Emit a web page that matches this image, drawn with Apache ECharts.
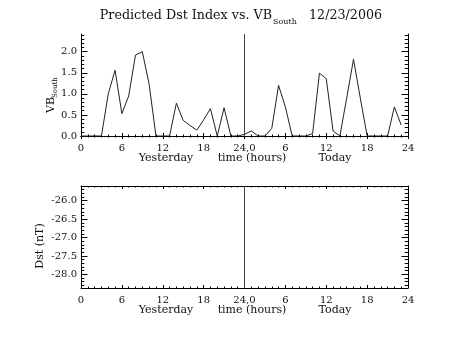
<!DOCTYPE html>
<html>
<head>
<meta charset="utf-8">
<script src="https://cdn.jsdelivr.net/npm/echarts@6/dist/echarts.min.js"></script>
<style>
html,body{margin:0;padding:0;background:#fff;}
#chart{width:453px;height:340px;}
</style>
</head>
<body>
<div id="chart"></div>
<script>
// ---- data ----
const hours = [0,1,2,3,4,5,6,7,8,9,10,11,12,13,14,15,16,17,18,19,20,21,22,23,
               24,25,26,27,28,29,30,31,32,33,34,35,36,37,38,39,40,41,42,43,44,45,46,47];
const vbSouth = [0,0,0,0,1.0,1.56,0.53,0.95,1.92,2.0,1.23,0,0,0,0.78,0.37,0.25,0.14,0.38,0.65,0,0.67,0,0,
                 0.04,0.12,0,0,0.18,1.2,0.69,0,0,0,0.06,1.49,1.36,0.12,0,0.9,1.82,0.9,0,0,0,0,0.69,0.26];
const dstValues = []; // no Dst prediction plotted
const xTickValues = [0,6,12,18,24,30,36,42,48];
const xTickLabels = ['0','6','12','18','24,0','6','12','18','24'];
const vbTickValues = [0,0.5,1,1.5,2];
const vbTickLabels = ['0.0','0.5','1.0','1.5','2.0'];
const dstTickValues = [-28,-27.5,-27,-26.5,-26];
const dstTickLabels = ['-28.0','-27.5','-27.0','-26.5','-26.0'];
const vbRange = [0, 2.42];
const dstRange = [-28.37, -25.6];
const dayBoundary = 24;

function minorTicks(range, step) {
  const out = [];
  const start = Math.ceil(range[0] / step - 1e-6);
  const end = Math.floor(range[1] / step + 1e-6);
  for (let i = start; i <= end; i++) out.push(+(i * step).toFixed(4));
  return out;
}

const FONT = 'DejaVu Serif';
const INK = '#000';
const TXT = '#111';

function xAxes(gi) {
  const base = {
    type: 'value', gridIndex: gi, min: 0, max: 48, interval: 6,
    axisLine: {show: true, lineStyle: {color: INK, width: 1}},
    splitLine: {show: false},
    axisTick: {show: true, inside: true, length: 3, lineStyle: {color: INK}},
    minorTick: {show: true, splitNumber: 6, length: 1.5, lineStyle: {color: INK}},
    minorSplitLine: {show: false}
  };
  return [
    Object.assign({}, base, {
      position: 'bottom',
      axisLabel: {show: true, margin: 7, fontFamily: FONT, fontSize: 10, color: TXT,
        formatter: v => { const i = xTickValues.indexOf(v); return i >= 0 ? xTickLabels[i] : ''; }}
    }),
    Object.assign({}, base, {position: 'top', axisLabel: {show: false}})
  ];
}

function yAxes(gi, range, majors, labels) {
  const minors = minorTicks(range, 0.1);
  const mk = (pos, major, showLabel, showLine) => ({
    type: 'value', gridIndex: gi, position: pos, min: range[0], max: range[1],
    axisLine: {show: showLine, lineStyle: {color: INK, width: 1}},
    splitLine: {show: false},
    axisTick: {show: true, inside: true, length: major ? 6.5 : 3.3,
      customValues: major ? majors : minors, lineStyle: {color: INK}},
    axisLabel: showLabel ? {show: true, margin: 4, fontFamily: FONT, fontSize: 10, color: TXT,
      customValues: majors,
      formatter: v => { const i = majors.findIndex(m => Math.abs(m - v) < 1e-6); return i >= 0 ? labels[i] : ''; }}
      : {show: false}
  });
  return [mk('left', true, true, true), mk('left', false, false, false),
          mk('right', true, false, true), mk('right', false, false, false)];
}

const boundaryLine = {
  silent: true, symbol: ['none', 'none'], label: {show: false},
  lineStyle: {color: '#444', width: 1, type: 'solid'},
  data: [{xAxis: dayBoundary}]
};

const option = {
  animation: false,
  backgroundColor: '#fff',
  grid: [
    {left: 81, right: 45, top: 34, height: 102},
    {left: 81, right: 45, top: 186, height: 102}
  ],
  xAxis: [].concat(xAxes(0), xAxes(1)),
  yAxis: [].concat(yAxes(0, vbRange, vbTickValues, vbTickLabels),
                   yAxes(1, dstRange, dstTickValues, dstTickLabels)),
  series: [
    {
      type: 'line', xAxisIndex: 0, yAxisIndex: 0,
      data: hours.map((h, i) => [h, vbSouth[i]]),
      showSymbol: false, symbol: 'none',
      lineStyle: {color: '#222', width: 1},
      markLine: boundaryLine
    },
    {
      type: 'line', xAxisIndex: 2, yAxisIndex: 4,
      data: dstValues,
      showSymbol: false, symbol: 'none',
      lineStyle: {color: '#222', width: 1},
      markLine: boundaryLine
    }
  ],
  graphic: [
    // title
    {type: 'text', x: 272, y: 22, style: {text: 'Predicted Dst Index vs. VB', font: '12.7px "' + FONT + '"', fill: TXT, textAlign: 'right', textVerticalAlign: 'bottom'}},
    {type: 'text', x: 273, y: 26, style: {text: 'South', font: '8px "' + FONT + '"', fill: TXT, textAlign: 'left', textVerticalAlign: 'bottom'}},
    {type: 'text', x: 309, y: 22, style: {text: '12/23/2006', font: '12.7px "' + FONT + '"', fill: TXT, textAlign: 'left', textVerticalAlign: 'bottom'}},
    // y axis names
    {type: 'group', x: 51, y: 113, rotation: Math.PI / 2, children: [
      {type: 'text', x: 0, y: 0, style: {text: 'VB', font: '11px "' + FONT + '"', fill: TXT, textAlign: 'left', textVerticalAlign: 'middle'}},
      {type: 'text', x: 15, y: 4, style: {text: 'South', font: '7px "' + FONT + '"', fill: TXT, textAlign: 'left', textVerticalAlign: 'middle'}}
    ]},
    {type: 'text', x: 40, y: 246, rotation: Math.PI / 2, style: {text: 'Dst (nT)', font: '11px "' + FONT + '"', fill: TXT, textAlign: 'center', textVerticalAlign: 'middle'}},
    // x axis titles
    {type: 'text', x: 166, y: 158, style: {text: 'Yesterday', font: '11px "' + FONT + '"', fill: TXT, textAlign: 'center', textVerticalAlign: 'middle'}},
    {type: 'text', x: 252, y: 158, style: {text: 'time (hours)', font: '11px "' + FONT + '"', fill: TXT, textAlign: 'center', textVerticalAlign: 'middle'}},
    {type: 'text', x: 335, y: 158, style: {text: 'Today', font: '11px "' + FONT + '"', fill: TXT, textAlign: 'center', textVerticalAlign: 'middle'}},
    {type: 'text', x: 166, y: 310, style: {text: 'Yesterday', font: '11px "' + FONT + '"', fill: TXT, textAlign: 'center', textVerticalAlign: 'middle'}},
    {type: 'text', x: 252, y: 310, style: {text: 'time (hours)', font: '11px "' + FONT + '"', fill: TXT, textAlign: 'center', textVerticalAlign: 'middle'}},
    {type: 'text', x: 335, y: 310, style: {text: 'Today', font: '11px "' + FONT + '"', fill: TXT, textAlign: 'center', textVerticalAlign: 'middle'}}
  ]
};

const chart = echarts.init(document.getElementById('chart'), null, {renderer: 'canvas'});
chart.setOption(option);
</script>
</body>
</html>
